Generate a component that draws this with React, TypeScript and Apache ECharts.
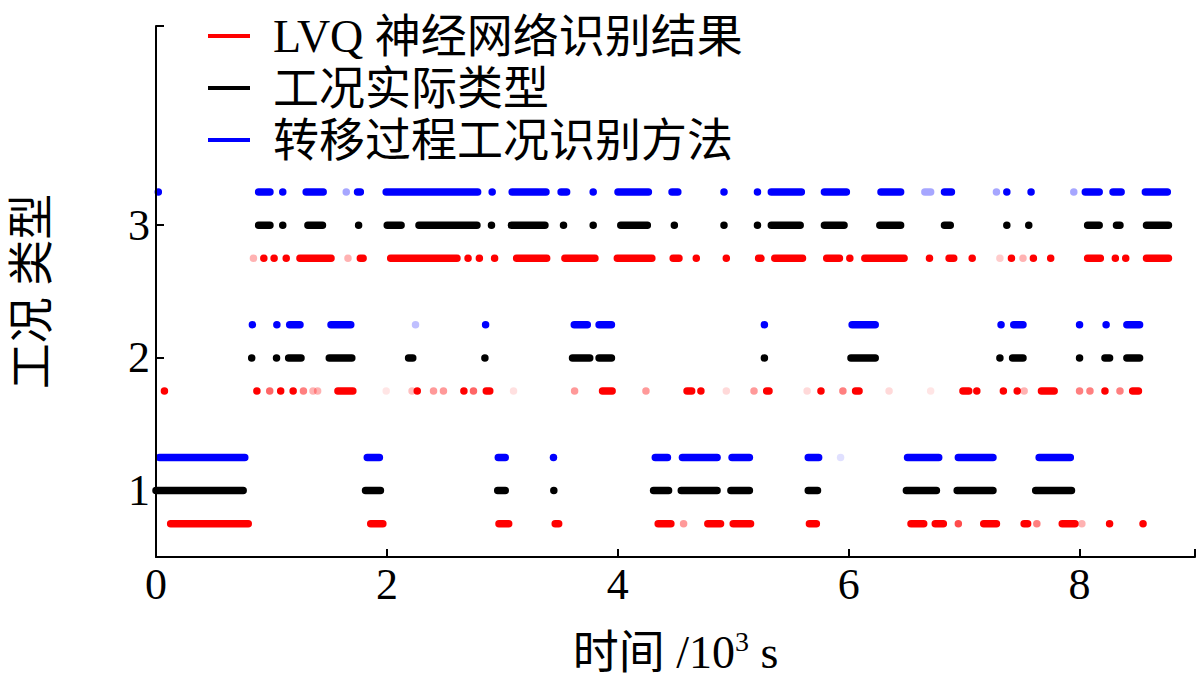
import React, { useEffect, useRef } from "react";
import * as echarts from "echarts";

type Seg = number[]; // [start, end, alpha?]  (time in 10^3 s)

const seriesNames = ["LVQ 神经网络识别结果", "工况实际类型", "转移过程工况识别方法"];
const seriesColors = ["#ff0000", "#000000", "#0000ff"];
const levelOffsets = [-0.25, 0, 0.25];
const xLabelValues = [0, 2, 4, 6, 8];
const xTickValues = [0, 2, 4, 6, 8, 9];
const yLabelValues = [1, 2, 3];
const yTickValues = [1, 2, 3, 4.5];

// LVQ network result (red)
const lvqL1: Seg[] = [
  [0.127, 0.799], [1.86, 1.965], [2.971, 3.055], [3.458, 3.488], [4.35, 4.46], [4.57, 4.57, 0.4],
  [4.78, 4.89], [5.0, 5.15], [5.66, 5.72], [6.54, 6.65], [6.75, 6.82], [6.95, 6.95, 0.7],
  [7.17, 7.28], [7.52, 7.55], [7.63, 7.63, 0.5], [7.85, 7.96], [8.02, 8.02, 0.3], [8.26, 8.26], [8.55, 8.55],
];
const lvqL2: Seg[] = [
  [0.073, 0.073], [0.874, 0.874], [0.985, 0.985, 0.6], [1.08, 1.08], [1.188, 1.188], [1.277, 1.277, 0.5],
  [1.36, 1.36, 0.3], [1.40, 1.40, 0.3], [1.576, 1.705], [1.994, 1.994, 0.1], [2.218, 2.218, 0.25],
  [2.263, 2.263], [2.404, 2.404, 0.4], [2.49, 2.49, 0.4], [2.667, 2.667], [2.75, 2.75, 0.6], [2.861, 2.891],
  [3.097, 3.097, 0.12], [3.626, 3.626, 0.4], [3.868, 3.951], [4.244, 4.244, 0.4],
  [4.60, 4.64], [4.72, 4.72], [4.94, 4.94, 0.15], [5.18, 5.18, 0.4], [5.29, 5.31], [5.64, 5.64, 0.15],
  [5.76, 5.76], [5.95, 5.95, 0.5], [6.06, 6.09], [6.35, 6.35, 0.15], [6.71, 6.71, 0.1], [6.99, 7.04],
  [7.11, 7.11], [7.34, 7.34], [7.46, 7.46], [7.52, 7.52, 0.3], [7.67, 7.78], [8.0, 8.0, 0.5],
  [8.09, 8.09, 0.5], [8.22, 8.22], [8.35, 8.35, 0.5], [8.46, 8.51],
];
const lvqL3: Seg[] = [
  [0.844, 0.844, 0.3], [0.934, 0.934], [1.023, 1.023], [1.128, 1.128], [1.247, 1.516], [1.663, 1.663, 0.3],
  [1.77, 1.794], [2.033, 2.607], [2.703, 2.703], [2.801, 2.801], [2.933, 2.933], [3.124, 3.384],
  [3.542, 3.802], [3.996, 4.295], [4.48, 4.53], [4.68, 4.68], [4.94, 4.94], [5.22, 5.24], [5.36, 5.60],
  [5.81, 5.92], [6.01, 6.01], [6.14, 6.48], [6.70, 6.70], [6.87, 6.91], [7.07, 7.07], [7.31, 7.31, 0.2],
  [7.41, 7.41], [7.51, 7.51, 0.3], [7.60, 7.60], [7.75, 7.75], [8.07, 8.18], [8.31, 8.31], [8.40, 8.40],
  [8.58, 8.77],
];

// Actual operating type (black)
const actualL1: Seg[] = [
  [0.0, 0.755], [1.815, 1.944], [2.96, 3.025], [3.446, 3.446], [4.31, 4.44], [4.55, 4.86], [4.98, 5.14],
  [5.65, 5.73], [6.50, 6.76], [6.94, 7.25], [7.62, 7.93],
];
const actualL2: Seg[] = [
  [0.829, 0.829], [1.044, 1.044], [1.149, 1.256], [1.501, 1.696], [2.188, 2.224], [2.849, 2.849],
  [3.608, 3.757], [3.838, 3.945], [5.27, 5.27], [6.02, 6.23], [7.31, 7.31], [7.42, 7.51], [8.0, 8.0],
  [8.22, 8.26], [8.41, 8.52],
];
const actualL3: Seg[] = [
  [0.889, 0.987], [1.098, 1.098], [1.316, 1.442], [1.755, 1.755], [2.003, 2.123], [2.278, 2.78],
  [2.906, 2.906], [3.079, 3.369], [3.53, 3.53], [3.787, 3.787], [4.026, 4.256], [4.49, 4.49],
  [4.92, 4.92], [5.21, 5.21], [5.33, 5.58], [5.79, 5.96], [6.27, 6.45], [6.83, 6.88], [7.37, 7.37],
  [7.56, 7.56], [8.07, 8.17], [8.32, 8.35], [8.58, 8.77],
];

// Transfer-process identification method (blue)
const transferL1: Seg[] = [
  [0.03, 0.769], [1.83, 1.935], [2.965, 3.025], [3.443, 3.443], [4.325, 4.43], [4.56, 4.86], [4.99, 5.14],
  [5.65, 5.74], [5.93, 5.93, 0.12], [6.51, 6.78], [6.95, 7.25], [7.65, 7.92],
];
const transferL2: Seg[] = [
  [0.835, 0.835], [1.047, 1.047], [1.158, 1.247], [1.516, 1.687], [2.248, 2.248, 0.25], [2.855, 2.855],
  [3.623, 3.736], [3.838, 3.945], [5.27, 5.27], [6.03, 6.23], [7.32, 7.32], [7.43, 7.51], [8.0, 8.0],
  [8.23, 8.23], [8.41, 8.52],
];
const transferL3: Seg[] = [
  [0.02, 0.02], [0.889, 0.987], [1.098, 1.098], [1.301, 1.448], [1.648, 1.648, 0.35], [1.746, 1.77],
  [1.994, 2.786], [2.912, 2.912], [3.085, 3.378], [3.509, 3.557], [3.787, 3.787], [4.002, 4.265],
  [4.47, 4.52], [4.92, 4.92], [5.21, 5.21], [5.33, 5.59], [5.79, 5.98], [6.28, 6.45], [6.66, 6.71, 0.35],
  [6.83, 6.89], [7.28, 7.28, 0.35], [7.37, 7.37], [7.58, 7.58], [7.95, 7.95, 0.35], [8.05, 8.17],
  [8.29, 8.36], [8.57, 8.76],
];

const seriesLevels: Seg[][][] = [
  [lvqL1, lvqL2, lvqL3],
  [actualL1, actualL2, actualL3],
  [transferL1, transferL2, transferL3],
];

const FONT = "'Liberation Serif', 'Noto Sans CJK SC', serif";

export default function App() {
  const ref = useRef<HTMLDivElement>(null);

  useEffect(() => {
    if (!ref.current) return;
    const chart = echarts.init(ref.current, null, { renderer: "svg" });

    const series = seriesNames.map((name, si) => {
      const color = seriesColors[si];
      const data = seriesLevels[si].flatMap((segs, li) =>
        segs.map((s) => [s[0], s[1], li + 1 + levelOffsets[si], s.length > 2 ? s[2] : 1])
      );
      return {
        name,
        type: "custom",
        color,
        itemStyle: { color },
        encode: { x: [0, 1], y: 2 },
        clip: false,
        data,
        renderItem: (params: any, api: any) => {
          const x1 = api.value(0);
          const x2 = api.value(1);
          const y = api.value(2);
          const a = api.value(3);
          const p1 = api.coord([x1, y]);
          const p2 = api.coord([x2, y]);
          const h = 7.5;
          return {
            type: "rect",
            shape: {
              x: p1[0] - h / 2,
              y: p1[1] - h / 2,
              width: p2[0] - p1[0] + h,
              height: h,
              r: h / 2,
            },
            style: { fill: color, opacity: a },
          };
        },
      };
    });

    const option: any = {
      animation: false,
      backgroundColor: "#ffffff",
      grid: { left: 153, right: 5, top: 26, bottom: 118, containLabel: false },
      legend: {
        orient: "vertical",
        left: 203,
        top: 8,
        itemWidth: 42,
        itemHeight: 4,
        itemGap: 6,
        icon: "rect",
        data: seriesNames.map((n) => ({ name: n, icon: "rect" })),
        textStyle: {
          fontFamily: FONT,
          fontSize: 46,
          lineHeight: 46,
          color: "#000",
          padding: [0, 0, 0, 18],
        },
      },
      xAxis: {
        type: "value",
        min: 0,
        max: 9,
        z: 5,
        name: "时间 /10{sup|3} s",
        nameLocation: "middle",
        nameGap: 70,
        nameTextStyle: {
          fontFamily: FONT,
          fontSize: 46,
          color: "#000",
          rich: {
            sup: { fontFamily: FONT, fontSize: 28, verticalAlign: "top", color: "#000", padding: [0, 0, 22, 0] },
          },
        },
        axisLine: { show: true, lineStyle: { color: "#000", width: 2 } },
        axisTick: { show: true, inside: true, length: 8, customValues: xTickValues, lineStyle: { color: "#000", width: 2 } },
        axisLabel: { customValues: xLabelValues, fontFamily: FONT, fontSize: 44, color: "#000", margin: 6 },
        splitLine: { show: false },
      },
      yAxis: {
        type: "value",
        min: 0.5,
        max: 4.5,
        z: 5,
        name: "工况 类型",
        nameLocation: "middle",
        nameGap: 102,
        nameTextStyle: { fontFamily: FONT, fontSize: 46, color: "#000" },
        axisLine: { show: true, lineStyle: { color: "#000", width: 2 } },
        axisTick: { show: true, inside: true, length: 8, customValues: yTickValues, lineStyle: { color: "#000", width: 2 } },
        axisLabel: { customValues: yLabelValues, fontFamily: FONT, fontSize: 44, color: "#000", margin: 6 },
        splitLine: { show: false },
      },
      series,
    };

    chart.setOption(option);
    return () => chart.dispose();
  }, []);

  return (
    <div
      ref={ref}
      style={{ position: "fixed", left: 0, top: 0, width: 1200, height: 680, background: "#fff" }}
    />
  );
}
